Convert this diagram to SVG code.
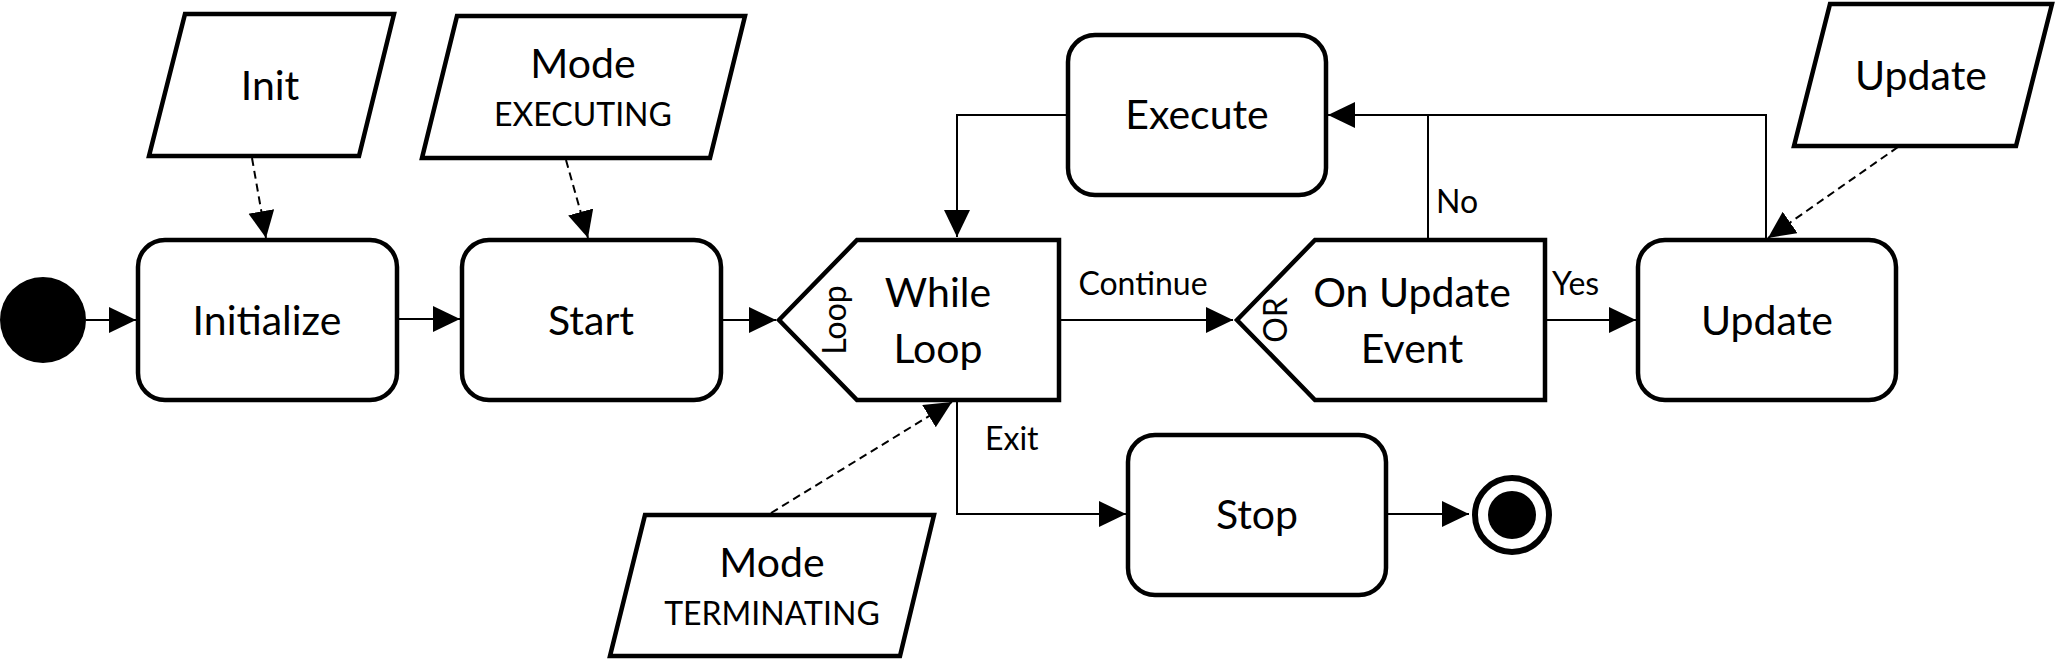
<svg xmlns="http://www.w3.org/2000/svg" width="2064" height="660" viewBox="0 0 2064 660">
<defs>
<marker id="ah" markerUnits="userSpaceOnUse" markerWidth="28" markerHeight="28" refX="27" refY="13" orient="auto">
<path d="M0,0 L27,13 L0,26 z" fill="#000"/>
</marker>
<style>
.box{fill:#fff;stroke:#000;stroke-width:4.5}
.par{fill:#fff;stroke:#000;stroke-width:4.5;stroke-linejoin:miter}
.lbl{font-family:Lato,"Liberation Sans",sans-serif;font-size:41px;fill:#000;text-anchor:middle}
.sub{font-family:Lato,"Liberation Sans",sans-serif;font-size:32px;fill:#000;text-anchor:middle}
.el{font-family:Lato,"Liberation Sans",sans-serif;font-size:32px;fill:#000}
.con{fill:none;stroke:#000;stroke-width:2}
.dash{fill:none;stroke:#000;stroke-width:2;stroke-dasharray:8,5}
</style>
</defs>
<rect width="2064" height="660" fill="#fff"/>
<g id="connectors">
<path class="con" d="M86,320 H136" marker-end="url(#ah)"/>
<path class="con" d="M398,319 H460" marker-end="url(#ah)"/>
<path class="con" d="M722,320 H776" marker-end="url(#ah)"/>
<path class="con" d="M1060,320 H1233" marker-end="url(#ah)"/>
<path class="con" d="M1546,320 H1636" marker-end="url(#ah)"/>
<path class="con" d="M1766,238 V115 H1328" marker-end="url(#ah)"/>
<path class="con" d="M1428,238 V115"/>
<path class="con" d="M1066,115 H957 V237" marker-end="url(#ah)"/>
<path class="con" d="M957,402 V514 H1126" marker-end="url(#ah)"/>
<path class="con" d="M1387,514 H1469" marker-end="url(#ah)"/>
<path class="dash" d="M252,158 L266,238" marker-end="url(#ah)"/>
<path class="dash" d="M566,160 L588,238" marker-end="url(#ah)"/>
<path class="dash" d="M1898,147 L1768,238" marker-end="url(#ah)"/>
<path class="dash" d="M771,513 L952,402" marker-end="url(#ah)"/>
<text class="el" x="1143" y="295" text-anchor="middle">Continue</text>
<text class="el" x="1436" y="213">No</text>
<text class="el" x="1552" y="295">Yes</text>
<text class="el" x="985" y="450">Exit</text>
</g>
<g id="start">
<circle cx="43" cy="320" r="43" fill="#000"/>
</g>
<g id="initialize">
<rect class="box" x="138" y="240" width="259" height="160" rx="27" ry="27"/>
<text class="lbl" x="267" y="335">Initialize</text>
</g>
<g id="startNode">
<rect class="box" x="462" y="240" width="259" height="160" rx="27" ry="27"/>
<text class="lbl" x="591" y="335">Start</text>
</g>
<g id="whileLoop">
<polygon class="par" points="779,320 857,240 1059,240 1059,400 857,400"/>
<text class="sub" transform="translate(846,320) rotate(-90)" x="0" y="0">Loop</text>
<text class="lbl" x="938" y="307">While</text>
<text class="lbl" x="938" y="363">Loop</text>
</g>
<g id="onUpdateEvent">
<polygon class="par" points="1237,320 1315,240 1545,240 1545,400 1315,400"/>
<text class="sub" transform="translate(1287,320) rotate(-90)" x="0" y="0">OR</text>
<text class="lbl" x="1412" y="307">On Update</text>
<text class="lbl" x="1412" y="363">Event</text>
</g>
<g id="updateNode">
<rect class="box" x="1638" y="240" width="258" height="160" rx="27" ry="27"/>
<text class="lbl" x="1767" y="335">Update</text>
</g>
<g id="execute">
<rect class="box" x="1068" y="35" width="258" height="160" rx="27" ry="27"/>
<text class="lbl" x="1197" y="129">Execute</text>
</g>
<g id="stop">
<rect class="box" x="1128" y="435" width="258" height="160" rx="27" ry="27"/>
<text class="lbl" x="1257" y="529">Stop</text>
</g>
<g id="end">
<circle cx="1512" cy="515" r="37" fill="#fff" stroke="#000" stroke-width="6"/>
<circle cx="1512" cy="515" r="24" fill="#000"/>
</g>
<g id="initData">
<polygon class="par" points="185,14 394,14 359,156 149,156"/>
<text class="lbl" x="270" y="100">Init</text>
</g>
<g id="modeExecuting">
<polygon class="par" points="457,16 745,16 710,158 422,158"/>
<text class="lbl" x="583" y="78">Mode</text>
<text class="sub" x="583" y="126">EXECUTING</text>
</g>
<g id="updateData">
<polygon class="par" points="1830,4 2052,4 2016,146 1794,146"/>
<text class="lbl" x="1921" y="90">Update</text>
</g>
<g id="modeTerminating">
<polygon class="par" points="645,515 934,515 900,656 610,656"/>
<text class="lbl" x="772" y="577">Mode</text>
<text class="sub" x="772" y="625">TERMINATING</text>
</g>
</svg>
